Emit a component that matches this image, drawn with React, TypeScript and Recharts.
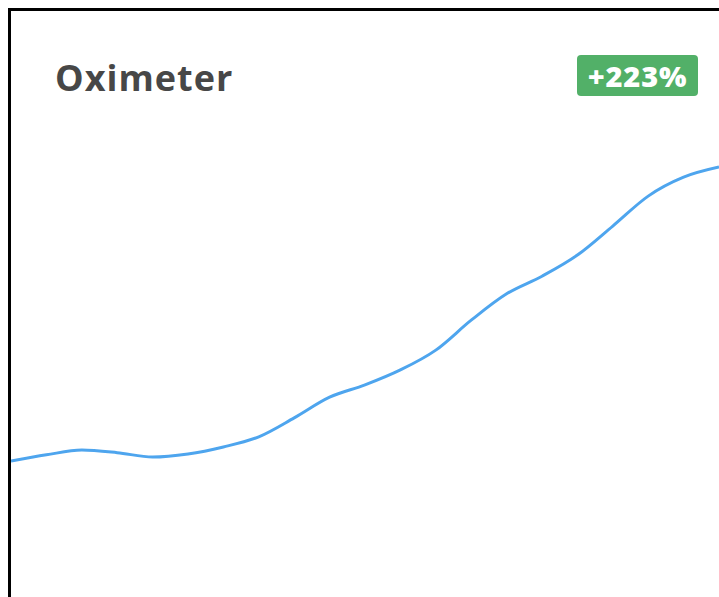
import React from 'react';
import { LineChart, Line, XAxis, YAxis } from 'recharts';

// readings over time, scale 0-100
const periods = [
  'P1', 'P2', 'P3', 'P4', 'P5', 'P6', 'P7', 'P8', 'P9', 'P10', 'P11',
  'P12', 'P13', 'P14', 'P15', 'P16', 'P17', 'P18', 'P19', 'P20', 'P21',
];
const readings = [
  30.0, 31.4, 32.5, 31.9, 30.9, 31.6, 33.2, 35.5, 39.8, 44.5, 47.3,
  50.7, 55.2, 62.0, 68.0, 72.0, 76.8, 83.4, 90.2, 94.5, 96.8,
];

const data = periods.map((p, i) => ({ period: p, value: readings[i] }));

export default function App() {
  return (
    <div
      style={{
        position: 'relative',
        width: 711,
        height: 589,
        overflow: 'hidden',
        borderLeft: '3px solid #000',
        borderTop: '3px solid #000',
        background: '#fff',
        boxSizing: 'border-box',
      }}
    >
      <style>{'html{overflow:hidden} body{margin:8px 0 0 8px}'}</style>
      <div
        style={{
          position: 'absolute',
          left: 44,
          top: 43,
          fontFamily: '"Open Sans", sans-serif',
          fontWeight: 700,
          fontSize: 36,
          letterSpacing: 1,
          lineHeight: '48px',
          color: '#474747',
        }}
      >
        Oximeter
      </div>
      <div
        style={{
          position: 'absolute',
          left: 566,
          top: 44,
          width: 121,
          height: 41,
          background: '#52b068',
          borderRadius: 4,
          color: '#fff',
          fontFamily: '"Open Sans", sans-serif',
          fontWeight: 800,
          fontSize: 29,
          letterSpacing: 0.8,
          lineHeight: '41px',
          textAlign: 'center',
        }}
      >
        +223%
      </div>
      <div style={{ position: 'absolute', left: 0, top: 142 }}>
        <LineChart width={708} height={440} data={data} margin={{ top: 0, right: 0, bottom: 0, left: 0 }}>
          <XAxis dataKey="period" hide />
          <YAxis domain={[0, 100]} hide />
          <Line
            type="monotone"
            dataKey="value"
            stroke="#4ea5ee"
            strokeWidth={3}
            dot={false}
            isAnimationActive={false}
          />
        </LineChart>
      </div>
    </div>
  );
}
